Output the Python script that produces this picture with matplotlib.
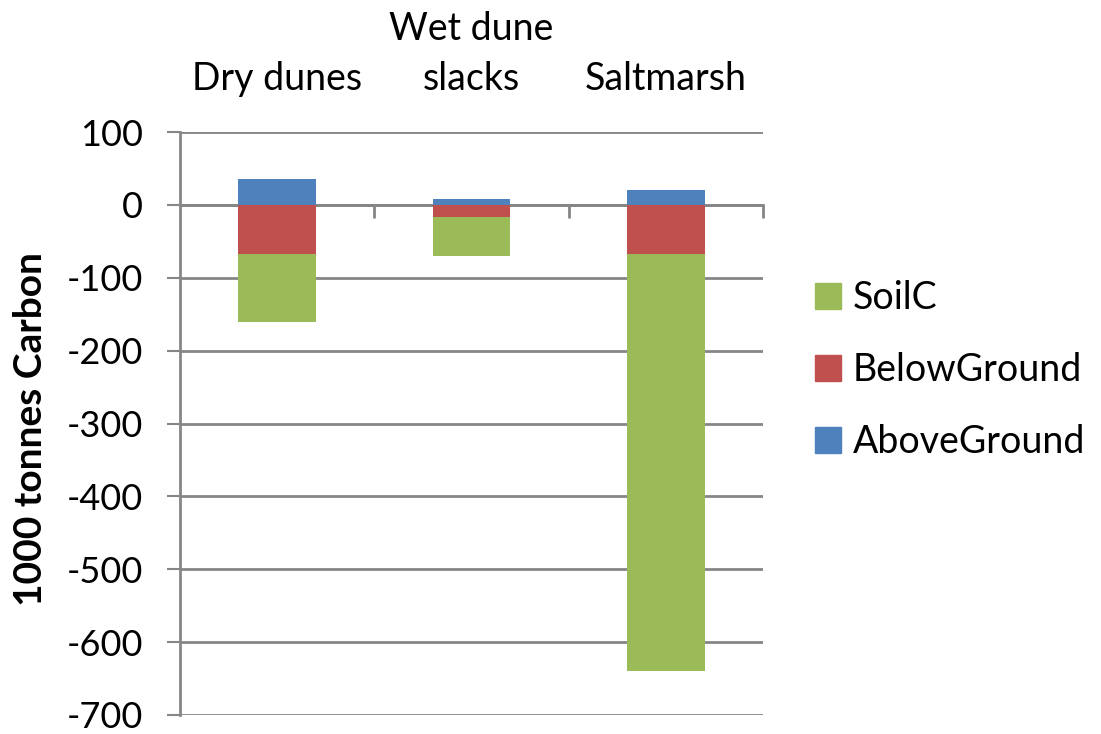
import matplotlib.pyplot as plt
from matplotlib.patches import Patch
import numpy as np

categories = ["Dry dunes", "Wet dune\nslacks", "Saltmarsh"]
above_ground = [36, 8, 21]
below_ground = [-67, -17, -67]
soil_c = [-94, -53, -573]
yticks = [100, 0, -100, -200, -300, -400, -500, -600, -700]

c_soil = "#9BBB59"
c_below = "#C0504D"
c_above = "#4F81BD"
grid_c = "#868686"

plt.rcParams['font.family'] = ['Lato', 'DejaVu Sans']

fig = plt.figure(figsize=(11.01, 7.34), dpi=100)
ax = fig.add_axes([180 / 1101, 1 - 715 / 734, (763 - 180) / 1101, (715 - 132) / 734])

x = np.arange(len(categories))
w = 0.40
ax.bar(x, above_ground, w, color=c_above, zorder=3)
ax.bar(x, below_ground, w, color=c_below, zorder=3)
ax.bar(x, soil_c, w, bottom=below_ground, color=c_soil, zorder=3)

ax.set_xlim(-0.5, 2.5)
ax.set_ylim(-700, 100)
ax.set_yticks(yticks)
ax.set_yticklabels([str(v) for v in yticks], fontsize=26)
ax.tick_params(axis='y', length=9.5, width=1.5, color=grid_c, pad=17)
for v in yticks:
    ax.axhline(v, color=grid_c, lw=2, zorder=1)

for s in ["top", "right"]:
    ax.spines[s].set_visible(False)
ax.spines["left"].set_color(grid_c)
ax.spines["left"].set_linewidth(2)

# category axis sits at y=0, ticks mark category boundaries
ax.set_xticks([0.5, 1.5, 2.5])
ax.set_xticklabels([])
ax.tick_params(axis='x', length=9, width=2, color=grid_c, direction='out')
ax.spines["bottom"].set_position(('data', 0))
ax.spines["bottom"].set_color(grid_c)
ax.spines["bottom"].set_linewidth(2)

for xi, lab in zip(x, categories):
    ax.text(xi, 1.0 + 35 / 583, lab, transform=ax.get_xaxis_transform(),
            ha='center', va='bottom', fontsize=27, linespacing=1.5)

fig.text(31 / 1101, 1 - 429 / 734, "1000 tonnes Carbon", rotation=90,
         ha='center', va='center', fontsize=28, fontweight='bold')

handles = [Patch(color=c_soil), Patch(color=c_below), Patch(color=c_above)]
fig.legend(handles, ["SoilC", "BelowGround", "AboveGround"], loc='center left',
           bbox_to_anchor=(781 / 1101, 1 - 370 / 734), frameon=False, fontsize=27,
           handlelength=0.7, handleheight=0.7, handletextpad=0.32, labelspacing=0.96)

fig.savefig("out.png", dpi=100)
